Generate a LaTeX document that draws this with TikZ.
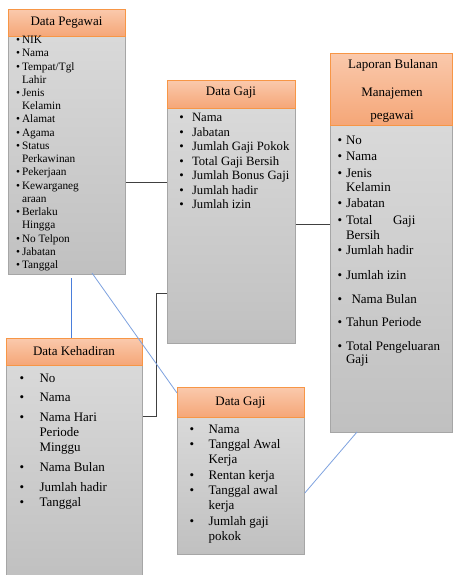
\documentclass[tikz,border=0pt]{standalone}
\usepackage{fontspec}
\setmainfont{Liberation Serif}
\definecolor{hdtop}{HTML}{FAC9AC}
\definecolor{hdbot}{HTML}{F5A677}
\definecolor{hdline}{HTML}{F79646}
\definecolor{bdtop}{HTML}{D9D9D9}
\definecolor{bdbot}{HTML}{C0C0C0}
\definecolor{bdline}{HTML}{A6A6A6}
\definecolor{lnblue}{HTML}{4A7EDB}
\definecolor{lnblue2}{HTML}{7FA3E0}
\tikzset{
  hdbox/.style={draw=hdline, line width=0.8pt, top color=hdtop, bottom color=hdbot, anchor=north west, inner sep=0pt},
  bdbox/.style={draw=bdline, line width=0.8pt, top color=bdtop, bottom color=bdbot, anchor=north west, inner sep=0pt},
  txt/.style={inner sep=0pt, outer sep=0pt},
  blk/.style={draw=black!75, line width=0.8pt},
  blu/.style={draw=lnblue, line width=0.8pt},
  blulight/.style={draw=lnblue2, line width=0.8pt}
}
\newcommand\Li[4]{\node[txt,anchor=base] at (#1,#3) {\textbullet};\node[txt,anchor=base west] at (#2,#3) {#4};}
\newcommand\Lc[3]{\node[txt,anchor=base west] at (#1,#2) {#3};}
\begin{document}
\begin{tikzpicture}[x=1pt,y=-1pt]
\useasboundingbox (0,0) rectangle (453,575);
\fill[white] (0,0) rectangle (453,575);
% ---- Data Pegawai
\node[bdbox, minimum width=117pt, minimum height=238pt] (pegb) at (8,36) {};
\node[hdbox, minimum width=117pt, minimum height=27pt] (pegh) at (8,9) {};
\node[txt, font=\fontsize{13}{15}\selectfont] (pegt) at (66.5,22.5) {Data Pegawai};
\begin{scope}[font=\fontsize{11.3}{13}\selectfont]
\Li{18}{22}{43.5}{NIK}
\Li{18}{22}{56.8}{Nama}
\Li{18}{22}{70.5}{Tempat/Tgl}
\Lc{22}{83.5}{Lahir}
\Li{18}{22}{96.5}{Jenis}
\Lc{22}{109.5}{Kelamin}
\Li{18}{22}{122.5}{Alamat}
\Li{18}{22}{136}{Agama}
\Li{18}{22}{149.5}{Status}
\Lc{22}{162.5}{Perkawinan}
\Li{18}{22}{175.5}{Pekerjaan}
\Li{18}{22}{189}{Kewarganeg}
\Lc{22}{202.5}{araan}
\Li{18}{22}{215.5}{Berlaku}
\Lc{22}{228.5}{Hingga}
\Li{18}{22}{242}{No Telpon}
\Li{18}{22}{255.5}{Jabatan}
\Li{18}{22}{268.5}{Tanggal}
\end{scope}
% ---- Data Gaji (top)
\node[bdbox, minimum width=128pt, minimum height=235pt] (gajib) at (167,108) {};
\node[hdbox, minimum width=128pt, minimum height=28pt] (gajih) at (167,80) {};
\node[txt, font=\fontsize{13}{15}\selectfont] (gajit) at (231,93) {Data Gaji};
\begin{scope}[font=\fontsize{12.7}{14}\selectfont]
\Li{181.5}{192}{121.5}{Nama}
\Li{181.5}{192}{136}{Jabatan}
\Li{181.5}{192}{150.5}{Jumlah Gaji Pokok}
\Li{181.5}{192}{165}{Total Gaji Bersih}
\Li{181.5}{192}{179.5}{Jumlah Bonus Gaji}
\Li{181.5}{192}{194}{Jumlah hadir}
\Li{181.5}{192}{208.5}{Jumlah izin}
\end{scope}
% ---- Laporan Bulanan
\node[bdbox, minimum width=122pt, minimum height=307pt] (lapb) at (330,125) {};
\node[hdbox, minimum width=122pt, minimum height=72pt] (laph) at (330,53) {};
\begin{scope}[font=\fontsize{13}{15}\selectfont]
\node[txt] (lapt1) at (393,65) {Laporan Bulanan};
\node[txt] (lapt2) at (392,93.5) {Manajemen};
\node[txt] (lapt3) at (392,116.5) {pegawai};
\Li{340}{346}{144}{No}
\Li{340}{346}{160.5}{Nama}
\Li{340}{346}{177}{Jenis}
\Lc{346}{191.5}{Kelamin}
\Li{340}{346}{207.5}{Jabatan}
\Li{340}{346}{224}{Total}
\Lc{393}{224}{Gaji}
\Lc{346}{239}{Bersih}
\Li{340}{346}{254.5}{Jumlah hadir}
\Li{340}{346}{279.5}{Jumlah izin}
\Li{340}{351.5}{303}{Nama Bulan}
\Li{340}{346}{326.5}{Tahun Periode}
\Li{340}{346}{350}{Total Pengeluaran}
\Lc{346}{363.5}{Gaji}
\end{scope}
% ---- Data Kehadiran
\node[bdbox, minimum width=136pt, minimum height=213pt] (kehb) at (6,365) {};
\node[hdbox, minimum width=136pt, minimum height=27pt] (kehh) at (6,338) {};
\node[txt, font=\fontsize{13}{15}\selectfont] (keht) at (74,351) {Data Kehadiran};
\begin{scope}[font=\fontsize{13}{15}\selectfont]
\Li{22}{39.5}{382.5}{No}
\Li{22}{39.5}{401}{Nama}
\Li{22}{39.5}{421}{Nama Hari}
\Lc{39.5}{436}{Periode}
\Lc{39.5}{451}{Minggu}
\Li{22}{39.5}{471}{Nama Bulan}
\Li{22}{39.5}{491}{Jumlah hadir}
\Li{22}{39.5}{506}{Tanggal}
\end{scope}
% ---- Data Gaji (bottom)
\node[bdbox, minimum width=127pt, minimum height=137pt] (gj2b) at (177,417) {};
\node[hdbox, minimum width=127pt, minimum height=30pt] (gj2h) at (177,387) {};
\node[txt, font=\fontsize{13}{15}\selectfont] (gj2t) at (240.5,402.5) {Data Gaji};
\begin{scope}[font=\fontsize{13}{15}\selectfont]
\Li{192}{208.5}{433}{Nama}
\Li{192}{208.5}{448}{Tanggal Awal}
\Lc{208.5}{463}{Kerja}
\Li{192}{208.5}{479}{Rentan kerja}
\Li{192}{208.5}{494}{Tanggal awal}
\Lc{208.5}{509}{kerja}
\Li{192}{208.5}{525}{Jumlah gaji}
\Lc{208.5}{540}{pokok}
\end{scope}
% ---- connectors
\coordinate (c1) at (156,416);
\coordinate (c2) at (156,293);
\coordinate (b1) at (71,278);
\coordinate (d1) at (92,273);
\coordinate (e1) at (357,432);
\draw[blk] (pegb.east |- 0,182) -- (gajib.west |- 0,182);
\draw[blk] (gajib.east |- 0,224) -- (lapb.west |- 0,224);
\draw[blk] (kehb.east |- c1) -- (c1) -- (c2) -- (gajib.west |- c2);
\draw[blu] (b1) -- (kehh.north -| b1);
\draw[blulight] (d1) -- (gj2h.west |- 0,393);
\draw[blulight] (gj2b.east |- 0,493) -- (e1);
\end{tikzpicture}
\end{document}
